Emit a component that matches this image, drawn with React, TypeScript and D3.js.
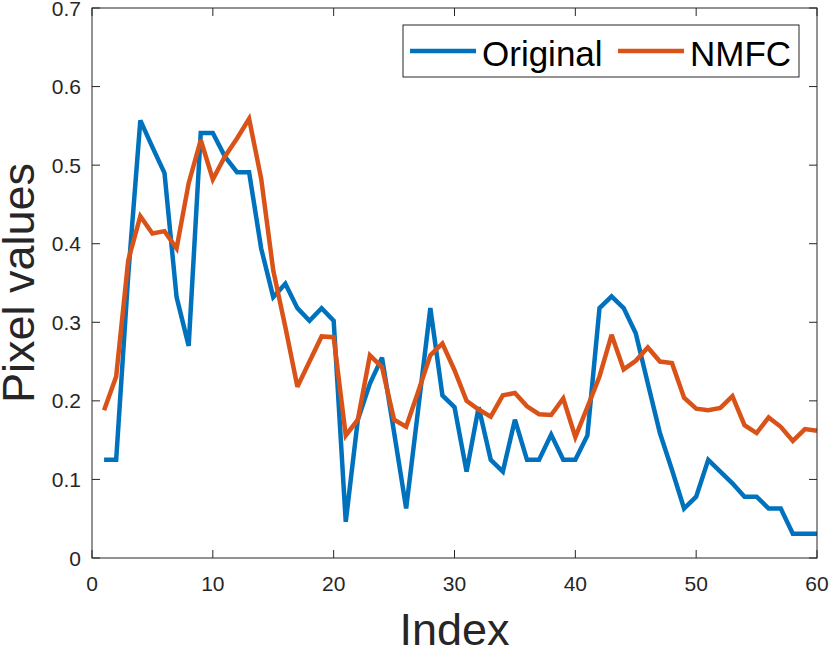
import React, { useEffect, useRef } from 'react';
import * as d3 from 'd3';

const WIDTH = 830;
const HEIGHT = 648;
const MARGIN = { top: 8, right: 13, bottom: 90, left: 92 };

const original: number[] = [
  0.125, 0.125, 0.36, 0.557, 0.523, 0.49, 0.332, 0.27, 0.541, 0.541,
  0.511, 0.491, 0.491, 0.394, 0.332, 0.349, 0.318, 0.302, 0.318, 0.302,
  0.046, 0.176, 0.222, 0.255, 0.16, 0.063, 0.19, 0.318, 0.207, 0.192,
  0.11, 0.192, 0.125, 0.11, 0.176, 0.125, 0.125, 0.157, 0.125, 0.125,
  0.156, 0.318, 0.333, 0.318, 0.286, 0.222, 0.159, 0.112, 0.063, 0.078,
  0.125, 0.11, 0.095, 0.078, 0.078, 0.063, 0.063, 0.031, 0.031, 0.031,
];

const nmfc: number[] = [
  0.188, 0.231, 0.379, 0.435, 0.413, 0.416, 0.394, 0.477, 0.532, 0.482,
  0.511, 0.534, 0.559, 0.483, 0.366, 0.294, 0.218, 0.25, 0.282, 0.281,
  0.156, 0.176, 0.258, 0.243, 0.176, 0.167, 0.212, 0.258, 0.273, 0.239,
  0.2, 0.189, 0.18, 0.207, 0.21, 0.193, 0.183, 0.182, 0.203, 0.154,
  0.192, 0.231, 0.284, 0.24, 0.251, 0.268, 0.25, 0.248, 0.204, 0.19,
  0.188, 0.191, 0.206, 0.169, 0.159, 0.179, 0.167, 0.149, 0.164, 0.162,
];

const xTicks = [0, 10, 20, 30, 40, 50, 60];
const yTicks = [0, 0.1, 0.2, 0.3, 0.4, 0.5, 0.6, 0.7];

const series = [
  { name: 'Original', values: original, color: '#0072BD' },
  { name: 'NMFC', values: nmfc, color: '#D95319' },
];

const FONT = 'Liberation Sans, Arial, Helvetica, sans-serif';
const AXIS_COLOR = '#262626';

const App: React.FC = () => {
  const svgRef = useRef<SVGSVGElement | null>(null);

  useEffect(() => {
    if (!svgRef.current) return;
    const svg = d3.select(svgRef.current);
    svg.selectAll('*').remove();

    const x0 = MARGIN.left;
    const x1 = WIDTH - MARGIN.right;
    const y0 = HEIGHT - MARGIN.bottom;
    const y1 = MARGIN.top;

    const x = d3.scaleLinear().domain([0, 60]).range([x0, x1]);
    const y = d3.scaleLinear().domain([0, 0.7]).range([y0, y1]);

    svg.append('rect')
      .attr('x', 0).attr('y', 0)
      .attr('width', WIDTH).attr('height', HEIGHT)
      .attr('fill', '#fff');

    // data lines
    const line = d3.line<number>()
      .x((_, i) => x(i + 1))
      .y(d => y(d));

    const plot = svg.append('g');
    series.forEach(s => {
      plot.append('path')
        .datum(s.values)
        .attr('d', line)
        .attr('fill', 'none')
        .attr('stroke', s.color)
        .attr('stroke-width', 4.5)
        .attr('stroke-linejoin', 'miter')
        .attr('stroke-miterlimit', 3);
    });

    // axes box with inward ticks on all sides
    const axes = svg.append('g')
      .attr('stroke', AXIS_COLOR)
      .attr('stroke-width', 1)
      .attr('fill', 'none');

    axes.append('rect')
      .attr('x', x0).attr('y', y1)
      .attr('width', x1 - x0).attr('height', y0 - y1);

    const tickLen = 8;
    xTicks.forEach(t => {
      axes.append('line')
        .attr('x1', x(t)).attr('x2', x(t))
        .attr('y1', y0).attr('y2', y0 - tickLen);
      axes.append('line')
        .attr('x1', x(t)).attr('x2', x(t))
        .attr('y1', y1).attr('y2', y1 + tickLen);
    });
    yTicks.forEach(t => {
      axes.append('line')
        .attr('x1', x0).attr('x2', x0 + tickLen)
        .attr('y1', y(t)).attr('y2', y(t));
      axes.append('line')
        .attr('x1', x1).attr('x2', x1 - tickLen)
        .attr('y1', y(t)).attr('y2', y(t));
    });

    // tick labels
    svg.append('g')
      .selectAll('text')
      .data(xTicks)
      .join('text')
      .attr('x', d => x(d))
      .attr('y', y0 + 33)
      .attr('text-anchor', 'middle')
      .attr('font-family', FONT)
      .attr('font-size', 21)
      .attr('fill', AXIS_COLOR)
      .text(d => String(d));

    svg.append('g')
      .selectAll('text')
      .data(yTicks)
      .join('text')
      .attr('x', x0 - 11)
      .attr('y', d => y(d))
      .attr('dy', '0.36em')
      .attr('text-anchor', 'end')
      .attr('font-family', FONT)
      .attr('font-size', 21)
      .attr('fill', AXIS_COLOR)
      .text(d => (d === 0 ? '0' : d.toFixed(1)));

    // axis titles
    svg.append('text')
      .attr('x', (x0 + x1) / 2)
      .attr('y', 645)
      .attr('text-anchor', 'middle')
      .attr('font-family', FONT)
      .attr('font-size', 45)
      .attr('fill', AXIS_COLOR)
      .text('Index');

    svg.append('text')
      .attr('transform', `translate(34, ${(y0 + y1) / 2}) rotate(-90)`)
      .attr('text-anchor', 'middle')
      .attr('font-family', FONT)
      .attr('font-size', 45)
      .attr('fill', AXIS_COLOR)
      .text('Pixel values');

    // legend
    const legend = svg.append('g');
    legend.append('rect')
      .attr('x', 403).attr('y', 25)
      .attr('width', 396).attr('height', 52)
      .attr('fill', '#fff')
      .attr('stroke', AXIS_COLOR)
      .attr('stroke-width', 1);

    const legendItems = [
      { ...series[0], lineX: 410, textX: 482 },
      { ...series[1], lineX: 618, textX: 690 },
    ];
    legendItems.forEach(item => {
      legend.append('line')
        .attr('x1', item.lineX).attr('x2', item.lineX + 66)
        .attr('y1', 51).attr('y2', 51)
        .attr('stroke', item.color)
        .attr('stroke-width', 4.5);
      legend.append('text')
        .attr('x', item.textX)
        .attr('y', 66)
        .attr('font-family', FONT)
        .attr('font-size', 35)
        .attr('fill', '#000')
        .text(item.name);
    });
  }, []);

  return (
    <svg
      ref={svgRef}
      width={WIDTH}
      height={HEIGHT}
      style={{ position: 'absolute', left: 0, top: 0, display: 'block' }}
    />
  );
};

export default App;
